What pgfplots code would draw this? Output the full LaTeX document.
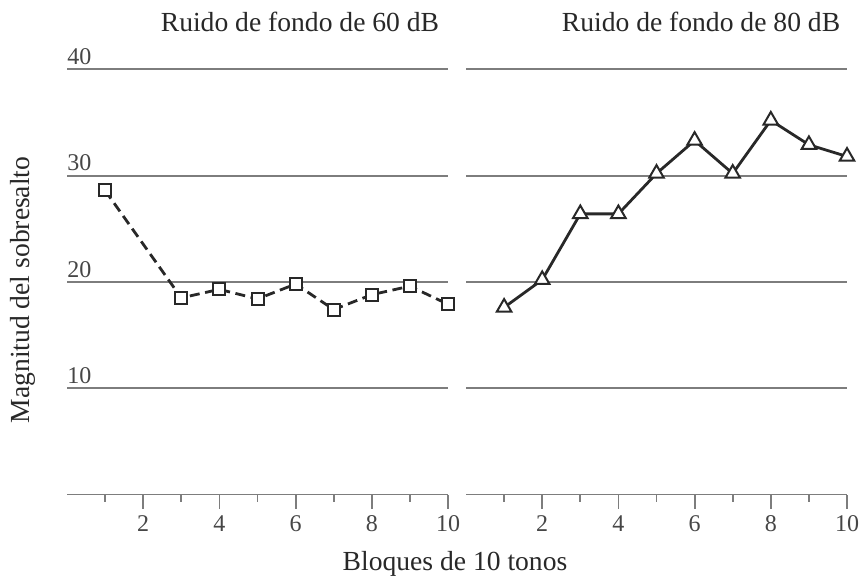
\documentclass[border=0pt]{standalone}
\usepackage{pgfplots}
\pgfplotsset{compat=1.18}
\usepackage{fontspec}
\setmainfont{Liberation Serif}

\definecolor{gridgray}{RGB}{125,125,125}
\definecolor{labgray}{RGB}{70,70,70}
\definecolor{ink}{RGB}{40,40,40}

\pgfplotsset{
  panel/.style={
    scale only axis,
    width=190.5pt, height=212.6pt,
    xmin=0, xmax=10, ymin=0, ymax=40,
    axis x line=bottom, axis y line=left,
    axis line style={-, gridgray, line width=0.9pt},
    y axis line style={draw=none},
    ytick={10,20,30,40}, ytick style={draw=none},
    ymajorgrids, major grid style={gridgray, line width=0.9pt},
    xtick={2,4,6,8,10}, minor xtick={1,3,5,7,9},
    tick align=outside,
    major tick length=7pt, minor tick length=3.5pt,
    xtick style={gridgray, line width=0.9pt},
    minor x tick style={gridgray, line width=0.9pt},
    tick label style={font=\fontsize{12}{13}\selectfont, text=labgray},
    /pgf/number format/assume math mode=true,
    clip=false,
  },
}

\pgfplotstableread{
x y
1 28.6
3 18.5
4 19.3
5 18.4
6 19.8
7 17.4
8 18.8
9 19.6
10 17.9
}\sixty

\pgfplotstableread{
x y
1 17.6
2 20.2
3 26.4
4 26.4
5 30.2
6 33.3
7 30.2
8 35.2
9 32.9
10 31.8
}\eighty

\begin{document}
\begin{tikzpicture}
\useasboundingbox (0,0) rectangle (433pt,-289.5pt);

\begin{axis}[panel, at={(33.5pt,-247.25pt)}, anchor=south west,
  yticklabel style={anchor=south west, inner sep=2pt, xshift=5pt}]
\addplot[ink, line width=1.4pt, dash pattern=on 5pt off 2.8pt,
  mark=square*, mark size=3pt,
  mark options={solid, fill=white, draw=ink, line width=1pt}]
  table[x=x, y=y] {\sixty};
\end{axis}

\begin{axis}[panel, at={(233pt,-247.25pt)}, anchor=south west,
  yticklabels={}]
\addplot[ink, line width=1.4pt,
  mark=triangle*, mark size=4.2pt,
  mark options={solid, fill=white, draw=ink, line width=1pt}]
  table[x=x, y=y] {\eighty};
\end{axis}

\node[font=\fontsize{13.8}{16}\selectfont, text=ink] at (150pt,-11pt) {Ruido de fondo de 60 dB};
\node[font=\fontsize{13.8}{16}\selectfont, text=ink] at (350.5pt,-11pt) {Ruido de fondo de 80 dB};
\node[font=\fontsize{13.8}{16}\selectfont, text=ink, rotate=90] at (11.5pt,-145pt) {Magnitud del sobresalto};
\node[font=\fontsize{13.8}{16}\selectfont, text=ink] at (227.5pt,-282pt) {Bloques de 10 tonos};
\end{tikzpicture}
\end{document}
